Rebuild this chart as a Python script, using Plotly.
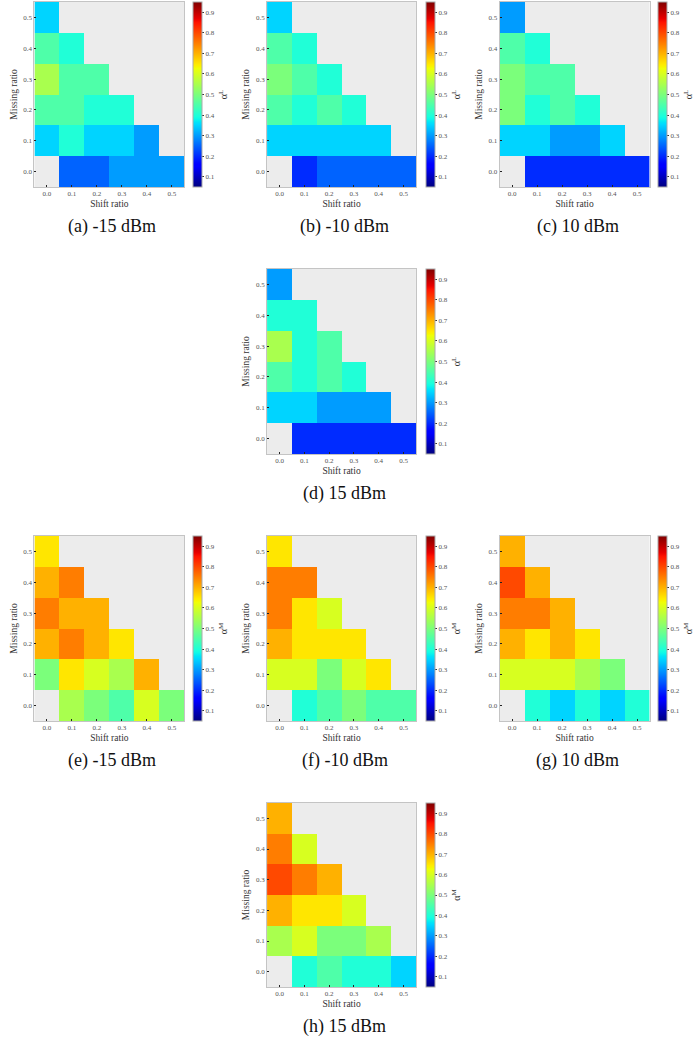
import plotly.graph_objects as go

W, H = 695, 1044

shift_ratio = [0.0, 0.1, 0.2, 0.3, 0.4, 0.5]
missing_ratio = [0.0, 0.1, 0.2, 0.3, 0.4, 0.5]
tick_labels = ["0.0", "0.1", "0.2", "0.3", "0.4", "0.5"]
cbar_ticks = [0.1, 0.2, 0.3, 0.4, 0.5, 0.6, 0.7, 0.8, 0.9]

N = None
# rows: missing ratio 0.0 .. 0.5 ; columns: shift ratio 0.0 .. 0.5
aL_m15 = [[N, 0.25, 0.25, 0.30, 0.30, 0.30],
          [0.35, 0.40, 0.35, 0.35, 0.30, N],
          [0.45, 0.45, 0.40, 0.40, N, N],
          [0.55, 0.45, 0.45, N, N, N],
          [0.45, 0.40, N, N, N, N],
          [0.35, N, N, N, N, N]]
aL_m10 = [[N, 0.20, 0.25, 0.25, 0.25, 0.25],
          [0.35, 0.35, 0.35, 0.35, 0.35, N],
          [0.45, 0.40, 0.45, 0.40, N, N],
          [0.50, 0.45, 0.40, N, N, N],
          [0.45, 0.40, N, N, N, N],
          [0.35, N, N, N, N, N]]
aL_p10 = [[N, 0.20, 0.20, 0.20, 0.20, 0.20],
          [0.35, 0.35, 0.30, 0.30, 0.35, N],
          [0.50, 0.40, 0.45, 0.40, N, N],
          [0.50, 0.45, 0.45, N, N, N],
          [0.45, 0.40, N, N, N, N],
          [0.30, N, N, N, N, N]]
aL_p15 = [[N, 0.20, 0.20, 0.20, 0.20, 0.20],
          [0.35, 0.35, 0.30, 0.30, 0.30, N],
          [0.45, 0.40, 0.45, 0.40, N, N],
          [0.55, 0.40, 0.45, N, N, N],
          [0.40, 0.40, N, N, N, N],
          [0.30, N, N, N, N, N]]
aM_m15 = [[N, 0.55, 0.50, 0.45, 0.60, 0.50],
          [0.50, 0.65, 0.60, 0.55, 0.70, N],
          [0.70, 0.75, 0.70, 0.65, N, N],
          [0.75, 0.70, 0.70, N, N, N],
          [0.70, 0.75, N, N, N, N],
          [0.65, N, N, N, N, N]]
aM_m10 = [[N, 0.40, 0.45, 0.50, 0.45, 0.45],
          [0.60, 0.60, 0.50, 0.60, 0.65, N],
          [0.70, 0.65, 0.65, 0.65, N, N],
          [0.75, 0.65, 0.60, N, N, N],
          [0.75, 0.75, N, N, N, N],
          [0.65, N, N, N, N, N]]
aM_p10 = [[N, 0.40, 0.35, 0.40, 0.35, 0.40],
          [0.60, 0.60, 0.60, 0.55, 0.50, N],
          [0.70, 0.65, 0.70, 0.65, N, N],
          [0.75, 0.75, 0.70, N, N, N],
          [0.80, 0.70, N, N, N, N],
          [0.70, N, N, N, N, N]]
aM_p15 = [[N, 0.40, 0.45, 0.40, 0.40, 0.35],
          [0.55, 0.60, 0.50, 0.50, 0.55, N],
          [0.70, 0.65, 0.65, 0.60, N, N],
          [0.80, 0.75, 0.70, N, N, N],
          [0.75, 0.60, N, N, N, N],
          [0.70, N, N, N, N, N]]

captions = ["(a) -15 dBm", "(b) -10 dBm", "(c) 10 dBm", "(d) 15 dBm",
            "(e) -15 dBm", "(f) -10 dBm", "(g) 10 dBm", "(h) 15 dBm"]
cbar_titles = ["α<sup>L</sup>"] * 4 + ["α<sup>M</sup>"] * 4
panels = [aL_m15, aL_m10, aL_p10, aL_p15, aM_m15, aM_m10, aM_p10, aM_p15]

# matplotlib "jet" colormap as a colorscale
def _interp(pts, t):
    for (x0, y0), (x1, y1) in zip(pts[:-1], pts[1:]):
        if x0 <= t <= x1:
            return y0 if x1 == x0 else y0 + (y1 - y0) * (t - x0) / (x1 - x0)
    return pts[-1][1]

_r = [(0, 0), (0.35, 0), (0.66, 1), (0.89, 1), (1, 0.5)]
_g = [(0, 0), (0.125, 0), (0.375, 1), (0.64, 1), (0.91, 0), (1, 0)]
_b = [(0, 0.5), (0.11, 1), (0.34, 1), (0.65, 0), (1, 0)]
jet = []
for i in range(101):
    t = i / 100
    jet.append([t, "rgb(%d,%d,%d)" % (round(255 * _interp(_r, t)),
                                      round(255 * _interp(_g, t)),
                                      round(255 * _interp(_b, t)))])

# panel geometry in pixels: (plot left, plot right, plot top, plot bottom, cbar left, caption x)
cols = [(35, 187, 196, 114), (271, 422, 432, 350), (507, 659, 668, 586)]
rows = [(2, 187), (269, 454), (536, 721), (803, 987)]
pos = [(0, 0), (0, 1), (0, 2), (1, 1), (2, 0), (2, 1), (2, 2), (3, 1)]

SERIF = "Liberation Serif, Times New Roman, serif"
fig = go.Figure()
annotations = []
for k, (z, (r, c)) in enumerate(zip(panels, pos)):
    xl, xr, cbl, capx = cols[c]
    yt, yb = rows[r]
    n = "" if k == 0 else str(k + 1)
    fig.add_trace(go.Heatmap(
        z=z, x=shift_ratio, y=missing_ratio,
        xaxis="x" + n, yaxis="y" + n,
        colorscale=jet, zmin=0.05, zmax=0.95, hoverongaps=False,
        colorbar=dict(
            x=cbl / W, xanchor="left", xpad=0,
            y=1 - (yt + yb) / 2 / H, yanchor="middle", ypad=0,
            len=(yb - yt) / H, lenmode="fraction",
            thickness=9, outlinewidth=1, outlinecolor="#aaaaaa",
            tickvals=cbar_ticks, ticks="outside", ticklen=2, tickcolor="#333",
            tickfont=dict(family=SERIF, size=7, color="#555"),
            title=dict(text=cbar_titles[k], side="right",
                       font=dict(family=SERIF, size=10, color="#333")),
        ),
    ))
    axcommon = dict(range=[-0.05, 0.55], tickvals=shift_ratio, ticktext=tick_labels,
                    ticks="inside", ticklen=2, tickcolor="#222", tickwidth=1,
                    showgrid=False, zeroline=False, showline=True, mirror=True,
                    linecolor="#c4c4c4", linewidth=1,
                    tickfont=dict(family=SERIF, size=7, color="#555"))
    fig.update_layout(**{
        "xaxis" + n: dict(axcommon, domain=[xl / W, xr / W], anchor="y" + n,
                          title=dict(text="Shift ratio", standoff=2,
                                     font=dict(family=SERIF, size=9.5, color="#333"))),
        "yaxis" + n: dict(axcommon, domain=[1 - yb / H, 1 - yt / H], anchor="x" + n,
                          title=dict(text="Missing ratio", standoff=4,
                                     font=dict(family=SERIF, size=9.5, color="#333"))),
    })
    annotations.append(dict(text=captions[k], x=capx / W, y=1 - (yb + 39) / H,
                            xref="paper", yref="paper", showarrow=False,
                            xanchor="center", yanchor="middle",
                            font=dict(family=SERIF, size=18, color="#111")))

fig.update_layout(width=W, height=H, margin=dict(l=0, r=0, t=0, b=0),
                  paper_bgcolor="white", plot_bgcolor="#ececec",
                  showlegend=False, annotations=annotations)
fig.write_html("out.html")
